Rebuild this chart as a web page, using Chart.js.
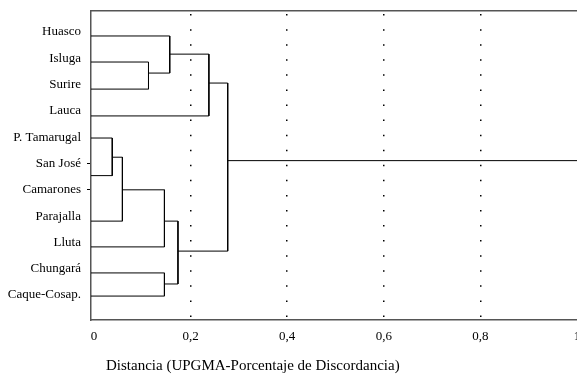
<!DOCTYPE html>
<html>
<head>
<meta charset="utf-8">
<script src="https://cdn.jsdelivr.net/npm/chart.js@4"></script>
<style>
  body { margin: 0; background: #fff; }
  #wrap { width: 577px; height: 375px; }
</style>
</head>
<body>
<div id="wrap"><canvas id="myChart"></canvas></div>
<script>
// leaves, top to bottom
const leaves = ['Huasco', 'Isluga', 'Surire', 'Lauca', 'P. Tamarugal', 'San José',
  'Camarones', 'Parajalla', 'Lluta', 'Chungará', 'Caque-Cosap.'];
// row where each leaf branch is drawn (Camarones has no branch in the figure)
const leafRows = [0.15, 1.14, 2.17, 3.19, 4.03, 5.46, null, 7.19, 8.17, 9.16, 10.04];
// merges: ids 0-10 are leaves, merge k creates cluster 11+k
const mergeA = [1, 0, 12, 4, 14, 15, 9, 16, 13];
const mergeB = [2, 11, 3, 5, 7, 8, 10, 17, 18];
const mergeDist = [0.113, 0.157, 0.238, 0.038, 0.059, 0.146, 0.146, 0.174, 0.277];
const mergeRows = [1.56, 0.84, 1.94, 4.76, 6.0, 7.19, 9.58, 8.33, 4.89];
const xTicks = [0, 0.2, 0.4, 0.6, 0.8, 1];
const xTickLabels = ['0', '0,2', '0,4', '0,6', '0,8', '1'];
const xTitle = 'Distancia (UPGMA-Porcentaje de Discordancia)';

const XMIN = -0.006, XMAX = 1;
const n = leaves.length;

function distOf(id) { return id < n ? XMIN : mergeDist[id - n]; }
function rowOf(id) { return id < n ? leafRows[id] : mergeRows[id - n]; }

var datasets = [];
mergeA.forEach((a, k) => {
    var b = mergeB[k];
    var d = mergeDist[k];
    datasets.push({
        data: [
            {x: distOf(a), y: rowOf(a)},
            {x: d, y: rowOf(a)},
            {x: d, y: rowOf(b)},
            {x: distOf(b), y: rowOf(b)}
        ]
    });
});
// root tail
var last = mergeDist.length - 1;
datasets.push({
    data: [{x: mergeDist[last], y: mergeRows[last]}, {x: XMAX, y: mergeRows[last]}]
});
datasets.forEach(ds => {
    ds.showLine = true;
    ds.borderColor = '#000';
    ds.borderWidth = 1;
    ds.pointRadius = 0;
    ds.fill = false;
});

const serif = 'Liberation Serif';
const axisColor = '#555';

var ctx = document.getElementById('myChart').getContext('2d');
var myChart = new Chart(ctx, {
    type: 'scatter',
    data: { datasets: datasets },
    options: {
        responsive: true,
        maintainAspectRatio: false,
        animation: false,
        layout: { padding: 0 },
        plugins: { legend: { display: false }, tooltip: { enabled: false } },
        scales: {
            x: {
                type: 'linear',
                position: 'bottom',
                min: XMIN,
                max: XMAX,
                afterBuildTicks: s => { s.ticks = xTicks.map(v => ({value: v})); },
                afterFit: s => { s.height = 55; s.paddingLeft = 0; s.paddingRight = 0; },
                ticks: {
                    autoSkip: false,
                    maxRotation: 0,
                    padding: 9,
                    color: '#000',
                    font: { family: serif, size: 13 },
                    callback: v => xTickLabels[xTicks.indexOf(v)]
                },
                grid: {
                    drawTicks: false,
                    lineWidth: 1.5,
                    color: c => (c.tick && c.tick.value > 0 && c.tick.value < 1) ? '#000' : 'rgba(0,0,0,0)'
                },
                border: { display: true, color: axisColor, width: 1.5, dash: [1.5, 13.57], dashOffset: 12 },
                title: {
                    display: true,
                    text: '    ' + xTitle,
                    align: 'start',
                    color: '#000',
                    font: { family: serif, size: 15 },
                    padding: { top: 0, bottom: 0 }
                }
            },
            x2: {
                type: 'linear',
                position: 'top',
                min: XMIN,
                max: XMAX,
                afterFit: s => { s.height = 11; s.paddingLeft = 0; s.paddingRight = 0; },
                ticks: { display: false },
                grid: { display: false, drawTicks: false },
                border: { display: true, color: axisColor, width: 1.5 }
            },
            y: {
                type: 'linear',
                reverse: true,
                min: -0.8,
                max: 10.95,
                afterBuildTicks: s => { s.ticks = leaves.map((_, i) => ({value: i})); },
                afterFit: s => { s.width = 91; s.paddingTop = 0; s.paddingBottom = 0; },
                ticks: {
                    autoSkip: false,
                    padding: 6,
                    color: '#000',
                    font: { family: serif, size: 13 },
                    callback: v => leaves[v]
                },
                grid: {
                    drawOnChartArea: false,
                    drawTicks: true,
                    tickLength: 4,
                    color: c => (c.index === 5 || c.index === 6) ? '#000' : 'rgba(0,0,0,0)'
                },
                border: { display: true, color: axisColor, width: 1.5 }
            }
        }
    }
});
</script>
</body>
</html>
